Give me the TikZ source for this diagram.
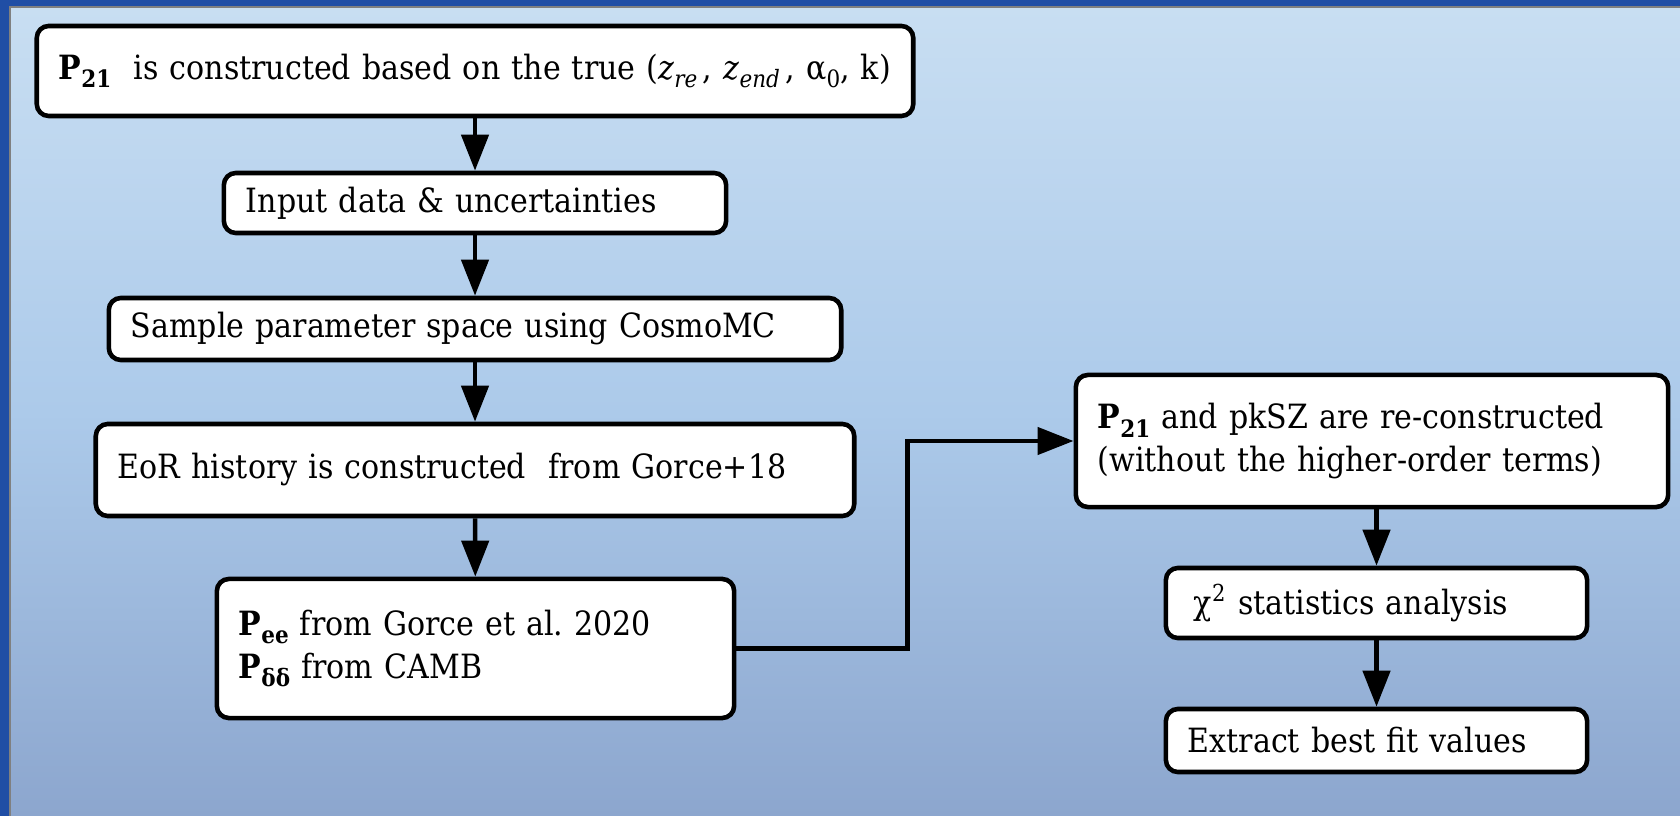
\documentclass[tikz,border=0pt]{standalone}
\usepackage{amsmath}
\usepackage{fontspec}
\setmainfont{DejaVu Serif Condensed}
\usepackage{xcolor}
\usepackage{tikz}
\usetikzlibrary{positioning,calc,arrows.meta}
\frenchspacing

\definecolor{skyframe}{RGB}{32,78,165}
\definecolor{skytop}{RGB}{200,222,242}
\definecolor{skymid}{RGB}{172,202,234}
\definecolor{skylow}{RGB}{140,166,206}

% lowered subscripts as in the slide
\newcommand{\lowsub}[1]{\raisebox{-0.5ex}{\fontsize{6.8pt}{0pt}\selectfont #1}}
\newcommand{\Pbf}[1]{\textbf{P}\lowsub{\bfseries #1}}

\tikzset{
    flowbox/.style={draw, line width=1.3pt, rounded corners=0.12cm, fill=white,
        align=left, inner xsep=0.22cm, inner ysep=0pt,
        font=\fontsize{9.5pt}{12.2pt}\selectfont},
    flowarrow/.style={line width=1.3pt, -{Triangle[length=0.36cm,width=0.27cm]}}
}

\begin{document}
\begin{tikzpicture}[x=0.01cm,y=-0.01cm]
    \useasboundingbox (0,0) rectangle (1680,816);
    % Background
    \fill[skyframe] (0,0) rectangle (1680,816);
    \shade[top color=skytop, bottom color=skylow, middle color=skymid] (10,7) rectangle (1680,816);
    \draw[gray, line width=0.6pt] (10,816) -- (10,7) -- (1680,7);
    % Left column
    \node[flowbox, text width=8.32cm, minimum height=0.90cm] (truth) at (475,71)
        {\mbox{\Pbf{21}\ \ is constructed based on the true (\textit{z}\lowsub{\itshape re}\,, \textit{z}\lowsub{\itshape end}\,, α\lowsub{0}, k)}};
    \node[flowbox, text width=4.58cm, minimum height=0.60cm] (input) at (475,203)
        {Input data \& uncertainties};
    \node[flowbox, text width=6.88cm, minimum height=0.62cm] (sample) at (475,329)
        {Sample parameter space using CosmoMC};
    \node[flowbox, text width=7.14cm, minimum height=0.92cm] (eor) at (475,470)
        {EoR history is constructed\ \ from Gorce+18};
    \node[flowbox, text width=4.73cm, minimum height=1.39cm] (spectra) at (475.5,648.5)
        {\Pbf{ee} from Gorce et al. 2020\\ \Pbf{δδ} from CAMB};
    % Right column
    \node[flowbox, text width=5.48cm, minimum height=1.32cm] (recon) at (1372,441)
        {\Pbf{21} and pkSZ are re-constructed\\(without the higher-order terms)};
    \node[flowbox, text width=3.77cm, minimum height=0.70cm] (chisq) at (1376.5,603)
        {\hspace{0.06cm}χ$^{\text{2}}$ statistics analysis};
    \node[flowbox, text width=3.77cm, minimum height=0.63cm] (bestfit) at (1376.5,740.5)
        {Extract best fit values};
    % Arrows
    \draw[flowarrow] (truth) -- (input);
    \draw[flowarrow] (input) -- (sample);
    \draw[flowarrow] (sample) -- (eor);
    \draw[flowarrow] (eor) -- (spectra);
    \draw[flowarrow] (spectra.east) -- ++(171,0) |- (recon.west);
    \draw[flowarrow] (chisq.north |- recon.south) -- (chisq.north);
    \draw[flowarrow] (chisq) -- (bestfit);
\end{tikzpicture}
\end{document}
